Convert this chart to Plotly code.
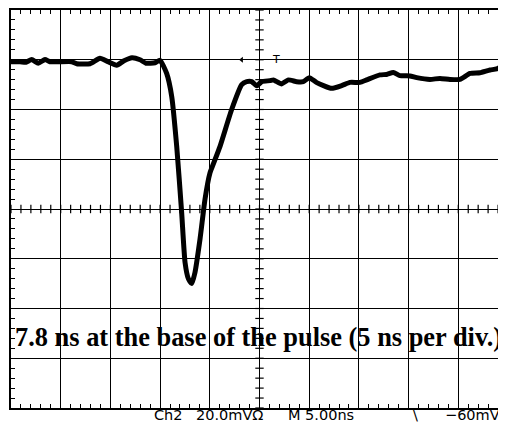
import plotly.graph_objects as go

# time in ns (5 ns/div), amplitude in mV (20 mV/div)
time_ns = [0, 0.91, 1.51, 2.08, 2.75, 3.42, 3.92, 6.11, 6.61, 7.95, 8.95, 9.76, 10.63, 11.37,
           12.17, 12.98, 13.58, 14.49, 14.99,
           15.66, 16.17, 16.67, 17.17, 17.51, 17.84, 18.18, 18.51, 19.02, 19.52, 20.02, 20.35,
           21.03, 22.2, 23.21, 23.71, 24.22, 24.72, 25.22,
           26.06, 26.39, 27.23, 27.9, 28.74, 29.41, 30.01, 30.76, 32.26, 33.27, 34.1, 35.11,
           35.78, 37.12, 37.79, 38.46, 39.13, 40.14, 40.82, 42.15, 43.16, 44.16, 45.17, 46.18,
           47.18, 48.19, 48.86, 49.8]
volts_mv = [59.2, 59.2, 59.0, 60.1, 58.6, 60.1, 59.2, 59.2, 58.4, 58.4, 60.6, 59.2, 57.8, 59.6,
            60.8, 60.0, 58.6, 58.8, 59.8,
            54.5, 45.2, 25.2, -1.5, -21.5, -28.0, -30.0, -25.5, -12.0, 4.0, 14.5, 18.0,
            25.2, 40.0, 50.0, 51.2, 51.2, 49.5, 51.2,
            51.6, 51.9, 50.3, 51.9, 51.2, 51.2, 52.8, 50.8, 48.5, 49.6, 50.9, 50.9,
            51.9, 53.9, 54.1, 54.9, 53.6, 53.5, 52.8, 52.1, 52.5, 52.1, 52.1, 54.5,
            54.8, 55.9, 56.3, 58.5]

center_x_ticks = [i * 1.0 for i in range(0, 51)]
center_y_ticks = [-80 + 4 * i for i in range(0, 41)]

title_text = "<b>7.8 ns at the base of the pulse (5 ns per div.)</b>"
readout = [("Ch2", 153), ("20.0mVΩ", 195), ("M 5.00ns", 287), ("\\", 412), ("−60mV", 444)]

fig = go.Figure()

# center-line cross ticks
fig.add_trace(go.Scatter(x=center_x_ticks, y=[0] * len(center_x_ticks), mode="markers",
                         marker=dict(symbol="line-ns", size=6, line=dict(color="black", width=1.2)),
                         hoverinfo="skip", showlegend=False))
fig.add_trace(go.Scatter(x=[25] * len(center_y_ticks), y=center_y_ticks, mode="markers",
                         marker=dict(symbol="line-ew", size=6, line=dict(color="black", width=1.2)),
                         hoverinfo="skip", showlegend=False))

# waveform
fig.add_trace(go.Scatter(x=time_ns, y=volts_mv, mode="lines",
                         line=dict(color="black", width=5, shape="spline", smoothing=0.5),
                         showlegend=False))

# markers: small arrow and trigger level
fig.add_trace(go.Scatter(x=[23.2], y=[60], mode="markers",
                         marker=dict(symbol="triangle-left", size=5, color="black"),
                         showlegend=False))
fig.add_trace(go.Scatter(x=[49.4], y=[62], mode="markers",
                         marker=dict(symbol="triangle-left-open", size=8, color="black",
                                     line=dict(width=1)),
                         showlegend=False))

fig.add_annotation(x=26.66, y=60, text="T", showarrow=False,
                   font=dict(family="DejaVu Sans", size=11, color="black"))

fig.add_annotation(x=0.5, y=0.1775, xref="paper", yref="paper", text=title_text, showarrow=False,
                   xanchor="center", yanchor="middle",
                   font=dict(family="Liberation Serif", size=26.4, color="black"))

for txt, px in readout:
    fig.add_annotation(x=(px - 11) / 495, y=-0.017, xref="paper", yref="paper", text=txt,
                       showarrow=False, xanchor="left", yanchor="middle", xshift=-1,
                       font=dict(family="DejaVu Sans", size=14.5, color="black"))

fig.update_xaxes(range=[0, 49.8], showgrid=True, gridcolor="black", gridwidth=1.3,
                 tick0=0, dtick=5, ticks="inside", ticklen=4, tickcolor="black",
                 minor=dict(dtick=1, ticks="inside", ticklen=4, tickcolor="black", showgrid=False),
                 showline=True, linecolor="black", linewidth=2, mirror="ticks",
                 showticklabels=False, zeroline=False)
fig.update_yaxes(range=[-80, 80], showgrid=True, gridcolor="black", gridwidth=1.3,
                 tick0=0, dtick=20, ticks="inside", ticklen=4, tickcolor="black",
                 minor=dict(dtick=4, ticks="inside", ticklen=4, tickcolor="black", showgrid=False),
                 showline=True, linecolor="black", linewidth=2,
                 showticklabels=False, zeroline=False)

# page body adds an 8px offset; compensate so the plot area sits at 11..506 x 8..408
fig.update_layout(width=498, height=415, margin=dict(l=3, r=0, t=0, b=15),
                  plot_bgcolor="white", paper_bgcolor="white")

fig.write_html("out.html")
